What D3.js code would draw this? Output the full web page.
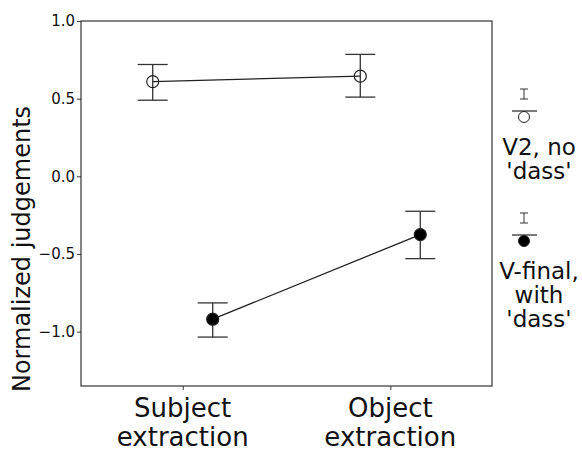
<!DOCTYPE html>
<html>
<head>
<meta charset="utf-8">
<script src="https://cdn.jsdelivr.net/npm/d3@7"></script>
<style>
  body { margin: 0; background: #fff; }
  text { font-family: "DejaVu Sans", sans-serif; fill: #111; }
</style>
</head>
<body>
<div id="chart-container"></div>
<script>
// data
const categories = ["Subject extraction", "Object extraction"];
const seriesNames = ["V2, no 'dass'", "V-final, with 'dass'"];
const v2Mean = [0.61, 0.645];
const v2Lower = [0.49, 0.51];
const v2Upper = [0.72, 0.785];
const vfMean = [-0.92, -0.375];
const vfLower = [-1.035, -0.53];
const vfUpper = [-0.815, -0.225];
const yTicks = [-1.0, -0.5, 0.0, 0.5, 1.0];

const series = [
  {name: seriesNames[0], mean: v2Mean, lo: v2Lower, hi: v2Upper, filled: false, legendLines: ["V2, no", "'dass'"]},
  {name: seriesNames[1], mean: vfMean, lo: vfLower, hi: vfUpper, filled: true, legendLines: ["V-final,", "with", "'dass'"]}
];

const W = 582, H = 451;
const margin = {top: 21, right: 90, bottom: 65, left: 81};
const width = W - margin.left - margin.right,
      height = H - margin.top - margin.bottom;
const ink = "#222";

const svg = d3.select("#chart-container")
  .append("svg")
  .attr("width", W)
  .attr("height", H);

const g = svg.append("g")
  .attr("transform", "translate(" + margin.left + "," + margin.top + ")");

const x = d3.scalePoint()
  .domain(categories)
  .range([0, width])
  .padding(0.49);

const dodge = d3.scalePoint()
  .domain(seriesNames)
  .range([-30, 30]);

const y = d3.scaleLinear()
  .domain([-1.35, 1.0])
  .range([height, 0]);

// frame
g.append("rect")
  .attr("width", width)
  .attr("height", height)
  .attr("fill", "none")
  .attr("stroke", "#333")
  .attr("stroke-width", 1.2);

// y axis
const yAxis = g.append("g")
  .call(d3.axisLeft(y).tickValues(yTicks).tickFormat(d3.format(".1f")).tickSize(4).tickPadding(2));
yAxis.select(".domain").remove();
yAxis.selectAll("line").attr("stroke", "#333");
yAxis.selectAll("text").style("font-size", "15px").attr("fill", ink);

// x axis (ticks only, labels drawn on two lines)
const xAxis = g.append("g")
  .attr("transform", `translate(0, ${height})`)
  .call(d3.axisBottom(x).tickSize(4).tickFormat(""));
xAxis.select(".domain").remove();
xAxis.selectAll("line").attr("stroke", "#333");

categories.forEach(c => {
  const words = c.split(" ");
  const t = g.append("text")
    .attr("text-anchor", "middle")
    .attr("x", x(c))
    .attr("y", height + 31)
    .style("font-size", "26px");
  words.forEach((w, i) => {
    t.append("tspan")
      .attr("x", x(c))
      .attr("dy", i === 0 ? 0 : 29)
      .text(w);
  });
});

// y label
svg.append("text")
  .attr("text-anchor", "middle")
  .attr("transform", `translate(30, 249) rotate(-90)`)
  .style("font-size", "24px")
  .text("Normalized judgements");

// series
const capHalf = 15;
series.forEach(s => {
  const pts = categories.map((c, i) => ({
    x: x(c) + dodge(s.name), m: s.mean[i], lo: s.lo[i], hi: s.hi[i]
  }));

  g.append("path")
    .datum(pts)
    .attr("fill", "none")
    .attr("stroke", ink)
    .attr("stroke-width", 1.3)
    .attr("d", d3.line().x(d => d.x).y(d => y(d.m)));

  const eb = g.append("g").selectAll("g")
    .data(pts)
    .enter()
    .append("g")
    .attr("stroke", "#333")
    .attr("stroke-width", 1.3);
  eb.append("line")
    .attr("x1", d => d.x).attr("x2", d => d.x)
    .attr("y1", d => y(d.lo)).attr("y2", d => y(d.hi));
  eb.append("line")
    .attr("x1", d => d.x - capHalf).attr("x2", d => d.x + capHalf)
    .attr("y1", d => y(d.hi)).attr("y2", d => y(d.hi));
  eb.append("line")
    .attr("x1", d => d.x - capHalf).attr("x2", d => d.x + capHalf)
    .attr("y1", d => y(d.lo)).attr("y2", d => y(d.lo));

  g.append("g").selectAll("circle")
    .data(pts)
    .enter()
    .append("circle")
    .attr("cx", d => d.x)
    .attr("cy", d => y(d.m))
    .attr("r", 6)
    .attr("fill", s.filled ? "#000" : "none")
    .attr("stroke", ink)
    .attr("stroke-width", 1.2);
});

// legend
const legendX = 524;
const legendTop = [89, 213];
series.forEach((s, i) => {
  const lg = svg.append("g").attr("transform", `translate(${legendX}, ${legendTop[i]})`);
  lg.append("line").attr("x1", 0).attr("x2", 0).attr("y1", 0).attr("y2", 10).attr("stroke", "#333");
  lg.append("line").attr("x1", -4).attr("x2", 4).attr("y1", 0).attr("y2", 0).attr("stroke", "#333");
  lg.append("line").attr("x1", -4).attr("x2", 4).attr("y1", 10).attr("y2", 10).attr("stroke", "#333");
  lg.append("line").attr("x1", -12).attr("x2", 13).attr("y1", 22).attr("y2", 22).attr("stroke", "#333").attr("stroke-width", 1.3);
  lg.append("circle")
    .attr("cx", 0).attr("cy", 28).attr("r", 5.5)
    .attr("fill", s.filled ? "#000" : "#fff")
    .attr("stroke", ink);
  s.legendLines.forEach((l, k) => {
    lg.append("text")
      .attr("text-anchor", "middle")
      .attr("x", 15)
      .attr("y", 66 + k * 24)
      .style("font-size", "23px")
      .text(l);
  });
});
</script>
</body>
</html>
